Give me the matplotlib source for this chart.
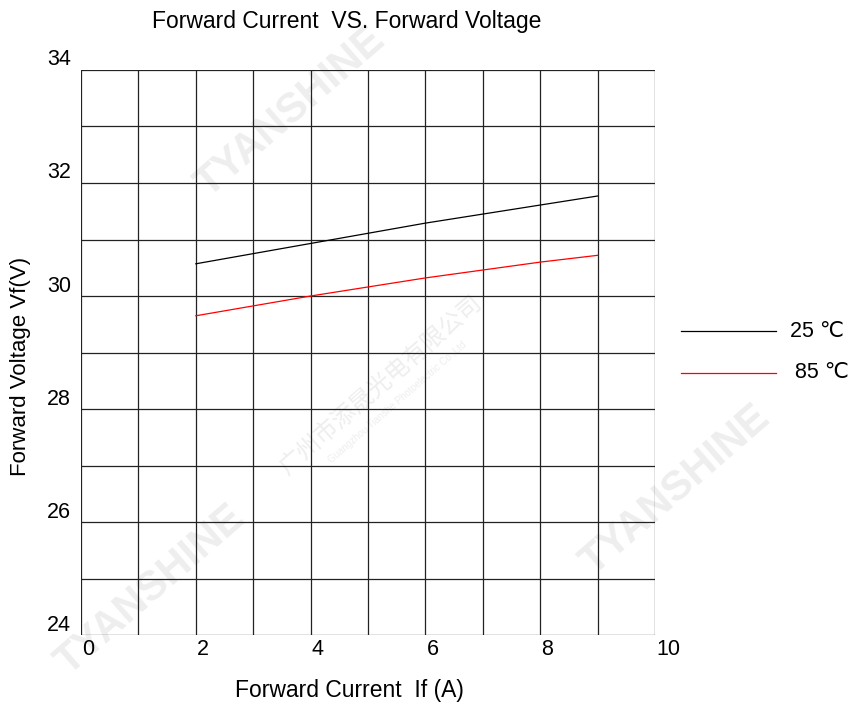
import matplotlib
matplotlib.use("Agg")
import matplotlib.pyplot as plt
from matplotlib.transforms import offset_copy
from matplotlib.lines import Line2D

plt.rcParams['font.family'] = ['Liberation Sans', 'DejaVu Sans']

# data
current = [2, 4, 6, 8, 9]
vf_25 = [30.57, 30.93, 31.29, 31.61, 31.77]
vf_85 = [29.65, 30.00, 30.32, 30.60, 30.72]
x_ticks = [0, 2, 4, 6, 8, 10]
y_ticks = [24, 26, 28, 30, 32, 34]
labels = ['25 ℃', '85 ℃']

fig = plt.figure(figsize=(8.52, 7.07), dpi=100)
ax = fig.add_axes([0.0951, 0.1018, 0.6737, 0.7992])
ax.set_xlim(0, 10)
ax.set_ylim(24, 34)

# 水印 (画在坐标轴下面)
wm = dict(color='#eeeeee', fontsize=30, fontweight='bold', rotation=41,
          ha='center', va='center', zorder=-1)
fig.text(290 / 852, 1 - 112 / 707, 'TYANSHINE', **wm)
fig.text(150 / 852, 1 - 590 / 707, 'TYANSHINE', **wm)
fig.text(675 / 852, 1 - 490 / 707, 'TYANSHINE', **wm)
cn = dict(color='#eeeeee', fontsize=17, rotation=41, ha='center', va='center',
          zorder=-1, family=['Noto Sans CJK SC', 'DejaVu Sans'])
fig.text(380 / 852, 1 - 385 / 707, '广州市添晟光电有限公司', **cn)
fig.text(397 / 852, 1 - 402 / 707, 'Guangzhou Tianshe Photoelectric Co.,Ltd',
         **dict(cn, fontsize=7, family=['Liberation Sans']))

# 网格
for v in range(0, 11):
    ax.axvline(v, color='#222222', lw=0.9, zorder=1)
for v in range(24, 35):
    ax.axhline(v, color='#222222', lw=0.9, zorder=1)
for s in ax.spines.values():
    s.set_visible(False)
ax.set_xticks([])
ax.set_yticks([])
ax.patch.set_alpha(0)

ax.plot(current, vf_25, color='black', lw=0.9, zorder=3)
ax.plot(current, vf_85, color='red', lw=0.9, zorder=3)

# 刻度标签
ty = offset_copy(ax.transData, fig=fig, x=-10, y=10, units='dots')
for v in y_ticks:
    ax.text(0, v, str(v), transform=ty, ha='right', va='center', fontsize=15.5)
tx = offset_copy(ax.transData, fig=fig, x=1, y=-14, units='dots')
for v in x_ticks:
    ax.text(v, 24, str(v), transform=tx, ha='left', va='center', fontsize=15.5)

fig.text(0.4067, 0.970, 'Forward Current  VS. Forward Voltage', ha='center',
         va='center', fontsize=16.5)
fig.text(0.410, 0.024, 'Forward Current  If (A)', ha='center', va='center',
         fontsize=16.5)
fig.text(0.024, 1 - 366 / 707, 'Forward Voltage Vf(V)', ha='center', va='center',
         rotation=90, fontsize=16)

# 图例
for (y, col, lab, x0) in [(331, 'black', labels[0], 790), (373, 'red', labels[1], 795)]:
    yf = 1 - y / 707
    fig.add_artist(Line2D([681 / 852, 776 / 852], [yf, yf], color=col, lw=0.9))
    fig.text(x0 / 852, yf, lab, ha='left', va='center', fontsize=15.5)

fig.savefig('out.png', dpi=100)
